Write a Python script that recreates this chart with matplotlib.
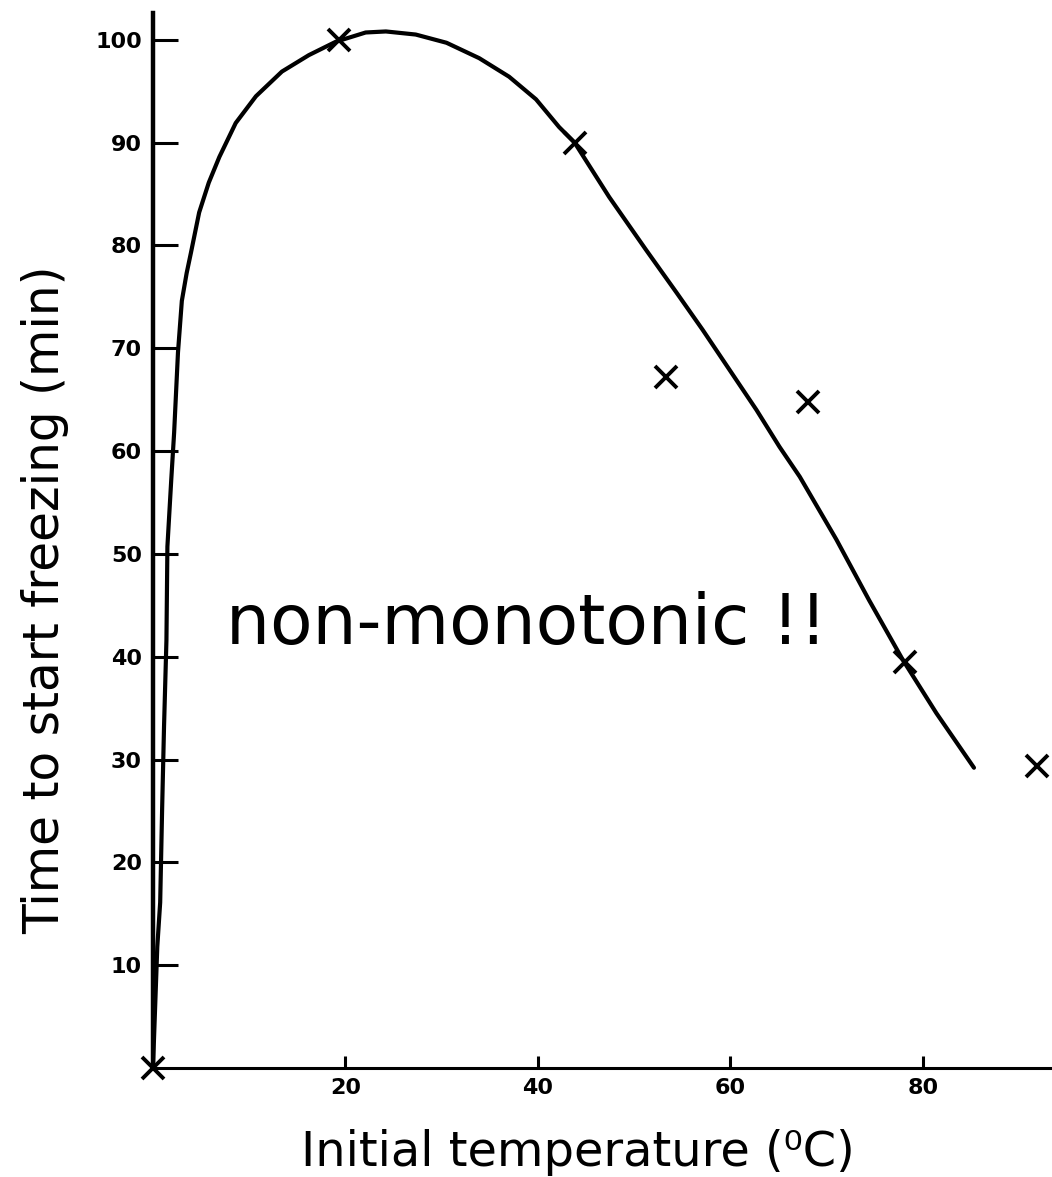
import matplotlib
matplotlib.use("Agg")
import matplotlib.pyplot as plt

# measured points (initial temperature in degC, minutes until freezing starts)
temp_measured = [0, 19.3, 43.8, 53.3, 68.1, 78.1, 91.8]
time_measured = [0, 100, 90, 67.2, 64.8, 39.5, 29.4]

# hand-drawn trend curve through the measurements
curve_temp = [0.0, 0.45, 0.75, 0.95, 1.15, 1.4, 1.5, 1.9, 2.2, 2.6, 3.0, 3.5,
              3.95, 4.8, 5.8, 6.9, 8.6, 10.7, 13.4, 16.2, 19.0, 22.1, 24.2,
              27.3, 30.5, 33.9, 37.0, 39.8, 42.2, 43.8, 47.4, 51.2, 54.4, 57.1,
              59.9, 62.7, 65.1, 67.2, 71.0, 74.4, 77.9, 81.4, 85.3]
curve_time = [0.0, 11.8, 16.1, 25.1, 33.2, 41.6, 50.7, 57.2, 61.8, 69.6, 74.6,
              77.3, 79.3, 83.2, 86.1, 88.6, 91.9, 94.5, 96.9, 98.5, 99.8,
              100.7, 100.8, 100.5, 99.7, 98.2, 96.4, 94.2, 91.5, 90.0, 84.7,
              79.6, 75.4, 71.8, 67.9, 64.0, 60.4, 57.5, 51.4, 45.5, 39.7, 34.5,
              29.2]

x_ticks = [20, 40, 60, 80]
y_ticks = [10, 20, 30, 40, 50, 60, 70, 80, 90, 100]

fig = plt.figure(figsize=(10.52, 11.77), dpi=100)
ax = fig.add_axes([0.1454, 0.0926, 0.8527, 0.8964])

ax.plot(curve_temp, curve_time, color="black", lw=3, solid_capstyle="round",
        solid_joinstyle="round", clip_on=False, zorder=3)
ax.plot(temp_measured, time_measured, linestyle="none", marker="x",
        markersize=16, markeredgewidth=2.8, color="black", clip_on=False,
        zorder=4)

ax.set_xlim(0, 93.2)
ax.set_ylim(0, 102.6)

for side in ("top", "right"):
    ax.spines[side].set_visible(False)
ax.spines["left"].set_linewidth(3.2)
ax.spines["bottom"].set_linewidth(2.2)

ax.set_xticks(x_ticks)
ax.set_yticks(y_ticks)
ax.tick_params(axis="y", direction="in", length=18, width=2.2, pad=8,
               labelsize=16)
ax.tick_params(axis="x", direction="in", length=9, width=2.2, pad=7,
               labelsize=16)
for lbl in ax.get_xticklabels() + ax.get_yticklabels():
    lbl.set_fontweight("bold")

ax.set_ylabel("Time to start freezing (min)", fontsize=35, va="center")
ax.yaxis.set_label_coords(-0.12, 0.444)
ax.set_xlabel("Initial temperature (\u2070C)", fontsize=34.5, va="center")
ax.xaxis.set_label_coords(0.474, -0.0805)

fig.text(0.501, 0.469, "non-monotonic !!", fontsize=50,
         ha="center", va="center")

fig.savefig("out.png", dpi=100)
